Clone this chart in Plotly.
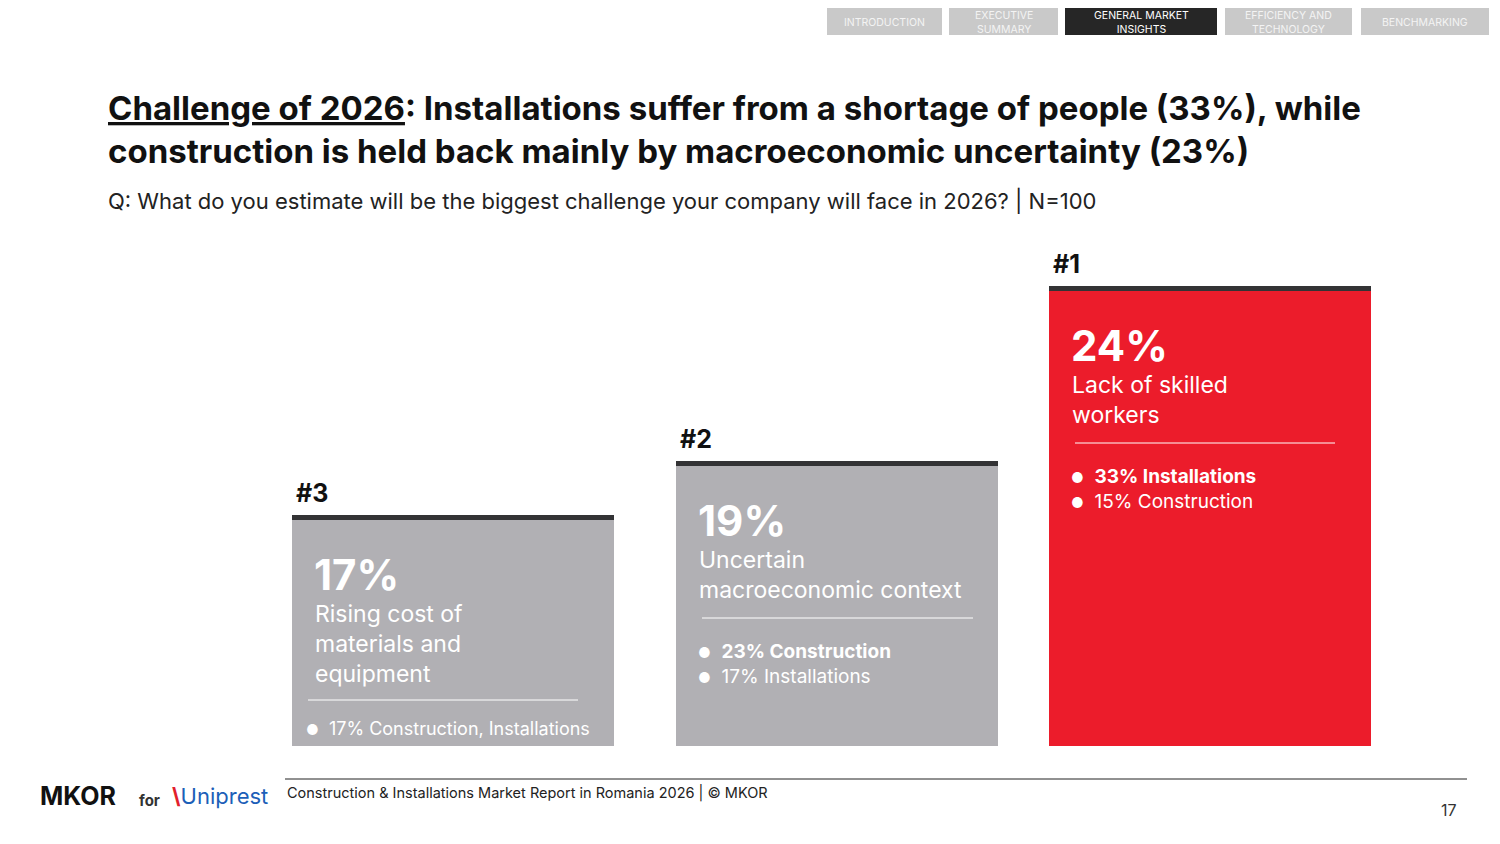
import plotly.graph_objects as go

# ====== data ======
ranks = ["#3", "#2", "#1"]
shares = ["17%", "19%", "24%"]
labels = ["Rising cost of<br>materials and<br>equipment",
          "Uncertain<br>macroeconomic context",
          "Lack of skilled<br>workers"]
bullets_bold = ["", "23% Construction", "33% Installations"]
bullets_plain = ["17% Construction, Installations", "17% Installations", "15% Construction"]
bar_heights = [226, 280, 455]          # display height (pixels), rank-based design
bar_centers = [453, 837, 1210]
bar_colors = ["#b1b0b4", "#b1b0b4", "#ec1c2b"]
tabs = ["INTRODUCTION", "EXECUTIVE<br>SUMMARY", "GENERAL MARKET<br>INSIGHTS",
        "EFFICIENCY AND<br>TECHNOLOGY", "BENCHMARKING"]
tab_x = [(827, 942), (949, 1058), (1065, 1217), (1225, 1352), (1361, 1489)]

H = 844
base = H - 746
W = 322
FONT = "Inter"

fig = go.Figure()
fig.add_trace(go.Bar(x=bar_centers, y=bar_heights, base=base, width=W,
                     marker=dict(color=bar_colors, line_width=0), hoverinfo="skip"))
# dark cap on each bar
fig.add_trace(go.Bar(x=bar_centers, y=[5] * 3, base=[base + h for h in bar_heights], width=W,
                     marker=dict(color="#333335", line_width=0), hoverinfo="skip"))

ann = []
shapes = []
for i in range(3):
    top = base + bar_heights[i]
    left = bar_centers[i] - W / 2
    ann.append(dict(x=left + 2, y=top + 10, text="<b>" + ranks[i] + "</b>", xanchor="left", yanchor="bottom",
                    font=dict(size=25, color="#111")))
    ann.append(dict(x=left + 20, y=top - 27, text="<b>" + shares[i] + "</b>", xanchor="left", yanchor="top",
                    font=dict(size=42, color="white")))
    ann.append(dict(x=left + 21, y=top - 78, text=labels[i], xanchor="left", yanchor="top", align="left",
                    font=dict(size=23, color="white")))
    nlines = labels[i].count("<br>") + 1
    ly = top - 84 - nlines * 28 - 12
    shapes.append(dict(type="line", xref="x", yref="y", x0=left + (16 if i == 0 else 26),
                       x1=left + (286 if i != 1 else 297), y0=ly, y1=ly, line=dict(color="white", width=1)))
    lines = []
    if bullets_bold[i]:
        lines.append("<span style='font-size:14px'>●</span>  <b>" + bullets_bold[i] + "</b>")
    lines.append("<span style='font-size:14px'>●</span>  " + bullets_plain[i])
    ann.append(dict(x=left + 12 + (8 if i else 0), y=ly - (16 if i == 0 else 20), text="<br>".join(lines),
                    xanchor="left", yanchor="top", align="left",
                    font=dict(size=19 if i else 18, color="white")))

# header / footer text
ann.append(dict(x=106, y=H - 86, text="<b><u>Challenge of 2026</u>: Installations suffer from a shortage of people (33%), while<br>"
                "construction is held back mainly by macroeconomic uncertainty (23%)</b>",
                xanchor="left", yanchor="top", align="left", font=dict(size=33, color="#111")))
ann.append(dict(x=106, y=H - 185, text="Q: What do you estimate will be the biggest challenge your company will face in 2026? | N=100",
                xanchor="left", yanchor="top", font=dict(size=22, color="#222")))
ann.append(dict(x=285, y=H - 793, text="Construction & Installations Market Report in Romania 2026 | © MKOR",
                xanchor="left", yanchor="middle", font=dict(size=14.5, color="#222")))
ann.append(dict(x=1459, y=H - 810, text="17", xanchor="right", yanchor="middle", font=dict(size=16, color="#333")))
ann.append(dict(x=38, y=H - 796, text="<b>MKOR</b>", xanchor="left", yanchor="middle", font=dict(size=25, color="#111")))
ann.append(dict(x=137, y=H - 800, text="<b>for</b>", xanchor="left", yanchor="middle", font=dict(size=15, color="#333")))
ann.append(dict(x=170, y=H - 796, text="<span style='color:#e2202b'><b>\\</b></span>Uniprest", xanchor="left",
                yanchor="middle", font=dict(size=22, color="#1c5fb8")))
shapes.append(dict(type="line", xref="x", yref="y", x0=285, x1=1467, y0=H - 779, y1=H - 779,
                   line=dict(color="#222", width=1)))

for t, (x0, x1) in zip(tabs, tab_x):
    active = t.startswith("GENERAL")
    shapes.append(dict(type="rect", xref="x", yref="y", x0=x0, x1=x1, y0=H - 35, y1=H + 5,
                       fillcolor="#262626" if active else "#c9c9c9", line_width=0))
    ann.append(dict(x=(x0 + x1) / 2, y=H - 22, text=t, xanchor="center", yanchor="middle",
                    font=dict(size=10.5, color="white" if active else "#f4f4f4")))

# page body has an 8px margin; shift the axis ranges so positions match the screenshot
fig.update_layout(
    width=1500, height=844,
    showlegend=False, barmode="overlay", plot_bgcolor="white", paper_bgcolor="white",
    margin=dict(l=0, r=0, t=0, b=0, pad=0), font=dict(family=FONT),
    xaxis=dict(range=[8, 1508], visible=False, fixedrange=True),
    yaxis=dict(range=[-8, H - 8], visible=False, fixedrange=True),
    annotations=[dict(a, xref="x", yref="y", showarrow=False) for a in ann],
    shapes=shapes,
)

fig.write_html("out.html")
